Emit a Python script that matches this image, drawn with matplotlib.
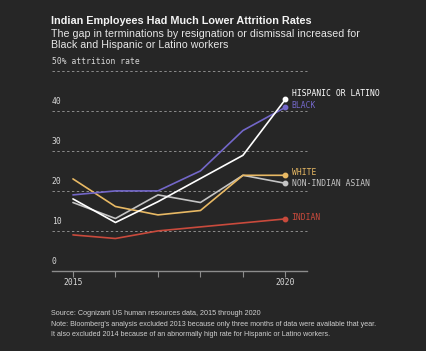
import matplotlib.pyplot as plt

years = [2015, 2016, 2017, 2018, 2019, 2020]
hispanic = [17.9, 12.0, 17.2, 23.0, 28.8, 42.8]
black = [18.9, 19.9, 19.9, 24.9, 35.0, 40.8]
white = [22.9, 16.0, 13.9, 15.0, 23.8, 23.8]
asian = [17.0, 13.0, 18.9, 17.0, 23.8, 21.8]
indian = [8.9, 8.0, 9.9, 10.9, 11.9, 12.9]
y_ticks = [0, 10, 20, 30, 40]

BG = "#262626"
W, H = 426, 351

series = [
    ("HISPANIC OR LATINO", hispanic, "#ffffff", 93.7),
    ("BLACK", black, "#7367c9", 106.0),
    ("WHITE", white, "#e8b964", 172.7),
    ("NON-INDIAN ASIAN", asian, "#c4c4c4", 183.7),
    ("INDIAN", indian, "#c94a3c", 217.3),
]

mono = "DejaVu Sans Mono"
sans = "Liberation Sans"

fig = plt.figure(figsize=(W / 100, H / 100), dpi=100, facecolor=BG)
ax = fig.add_axes([51.7 / W, 1 - 270.5 / H, 255 / W, 200 / H])
ax.set_facecolor(BG)
ax.set_xlim(2014.5, 2020.5)
ax.set_ylim(0, 50)
for s in ax.spines.values():
    s.set_visible(False)
ax.set_yticks([])
ax.set_xticks(years)
ax.set_xticklabels(["2015", "", "", "", "", "2020"], family=mono, fontsize=5.8, color="#d8d8d8")
ax.tick_params(axis="x", length=4, width=0.8, color="#8c8c8c", pad=1.5)

# grid lines
for v in y_ticks[1:] + [50]:
    ax.axhline(v, color="#8c8c8c", lw=0.7, ls=(0, (2.5, 2.5)), clip_on=False)
ax.axhline(0, color="#8c8c8c", lw=1.0, clip_on=False)
for v in y_ticks:
    ax.text(0.0, v + 1.2, str(v), transform=ax.get_yaxis_transform(),
            family=mono, fontsize=5.8, color="#d8d8d8", va="bottom", ha="left")
ax.text(0.0, 51.2, "50% attrition rate", transform=ax.get_yaxis_transform(),
        family=mono, fontsize=5.8, color="#d8d8d8", va="bottom", ha="left", clip_on=False)

for name, vals, col, ty in reversed(series):
    ax.plot(years, vals, color=col, lw=1.2, clip_on=False, solid_capstyle="round")
    ax.plot(years[-1], vals[-1], "o", color=col, ms=3.2, clip_on=False)
    fig.text(291.5 / W, 1 - ty / H, name, family=mono, fontsize=5.8, color=col,
             va="center", ha="left")

fig.text(51 / W, 1 - 21 / H, "Indian Employees Had Much Lower Attrition Rates",
         family=sans, fontweight="bold", fontsize=7.8, color="#f2f2f2", va="center")
fig.text(51 / W, 1 - 34 / H, "The gap in terminations by resignation or dismissal increased for",
         family=sans, fontsize=7.7, color="#e6e6e6", va="center")
fig.text(51 / W, 1 - 45.5 / H, "Black and Hispanic or Latino workers",
         family=sans, fontsize=7.7, color="#e6e6e6", va="center")

fig.text(51 / W, 1 - 313.7 / H, "Source: Cognizant US human resources data, 2015 through 2020",
         family=sans, fontsize=5.2, color="#cfcfcf", va="center")
fig.text(51 / W, 1 - 325 / H,
         "Note: Bloomberg's analysis excluded 2013 because only three months of data were available that year.",
         family=sans, fontsize=5.15, color="#cfcfcf", va="center")
fig.text(51 / W, 1 - 334.5 / H,
         "It also excluded 2014 because of an abnormally high rate for Hispanic or Latino workers.",
         family=sans, fontsize=5.15, color="#cfcfcf", va="center")

fig.savefig("out.png", dpi=100, facecolor=BG)
